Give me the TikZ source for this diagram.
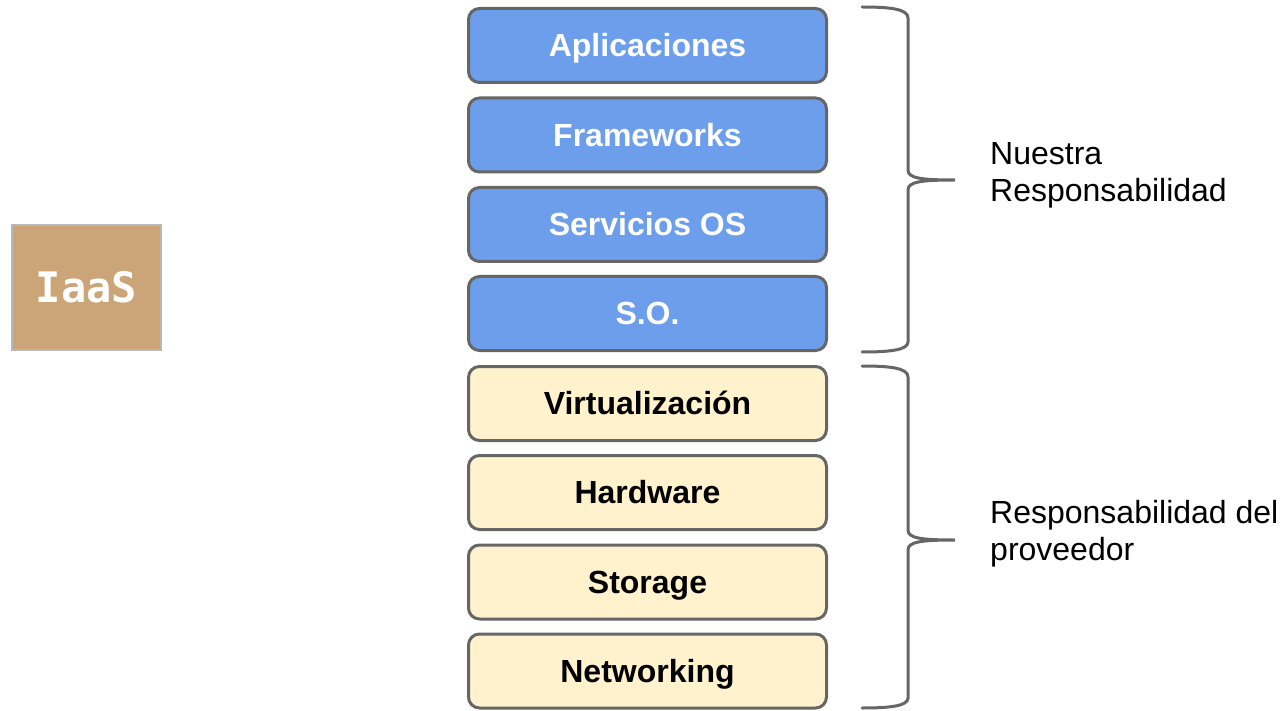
\documentclass[tikz,border=0pt]{standalone}
\usepackage{fontspec}
\setmainfont{Liberation Sans}
\newfontfamily\codefont{DejaVu Sans Mono}
\definecolor{layerblue}{HTML}{6D9EEB}
\definecolor{layeryellow}{HTML}{FFF2CC}
\definecolor{edgegray}{HTML}{666666}
\definecolor{tan}{HTML}{CBA577}
\definecolor{tanedge}{HTML}{B7B7B7}
\tikzset{
  layer/.style={draw=edgegray, line width=3pt, rounded corners=11pt,
    minimum width=358pt, minimum height=74pt, inner sep=0pt,
    font=\fontsize{32}{38}\selectfont\bfseries,
    text height=22.9pt, text depth=0pt},
  ours/.style={layer, fill=layerblue, text=white},
  theirs/.style={layer, fill=layeryellow, text=black},
  bracepath/.style={draw=edgegray, line width=3pt, line cap=round},
  note/.style={anchor=base west, align=left, inner sep=0pt,
    font=\fontsize{32}{37}\selectfont}
}
\begin{document}
\begin{tikzpicture}[x=1pt, y=-1pt]
\useasboundingbox (0,0) rectangle (1282,711);

% service model tag
\node[draw=tanedge, line width=2pt, fill=tan, minimum width=149pt,
  minimum height=125pt, inner sep=0pt, text=white,
  font=\codefont\fontsize{42}{42}\selectfont\bfseries]
  (iaas) at (86.5,287.5) {IaaS};

% layer stack
\node[ours]   (apps)  at (647.5,45.5)  {Aplicaciones};
\node[ours]   (fw)    at (647.5,135)   {Frameworks};
\node[ours]   (svc)   at (647.5,224.5) {Servicios OS};
\node[ours]   (os)    at (647.5,313.5) {S.O.};
\node[theirs] (virt)  at (647.5,403.5) {Virtualización};
\node[theirs] (hw)    at (647.5,492.5) {Hardware};
\node[theirs] (stor)  at (647.5,582)   {Storage};
\node[theirs] (net)   at (647.5,671)   {Networking};

% upper brace
\coordinate (b1top) at (862,7);
\coordinate (b1tip) at (955,180);
\coordinate (b1bot) at (862,352);
\draw[bracepath] (b1top) .. controls (890,7) and (908,9) .. (908,18)
  -- (908,170) .. controls (908,178) and (920,180) .. (b1tip)
  .. controls (920,180) and (908,182) .. (908,190)
  -- (908,342) .. controls (908,350) and (890,352) .. (b1bot);

% lower brace
\coordinate (b2top) at (862,366);
\coordinate (b2tip) at (955,540);
\coordinate (b2bot) at (862,708);
\draw[bracepath] (b2top) .. controls (890,366) and (908,368) .. (908,377)
  -- (908,530) .. controls (908,538) and (920,540) .. (b2tip)
  .. controls (920,540) and (908,542) .. (908,550)
  -- (908,698) .. controls (908,706) and (890,708) .. (b2bot);

% brace labels (anchored at the baseline of their last line)
\node[note] (ourlabel)   at (990,202) {Nuestra\\Responsabilidad};
\node[note] (provlabel)  at (990,560) {Responsabilidad del\\proveedor};
\end{tikzpicture}
\end{document}
